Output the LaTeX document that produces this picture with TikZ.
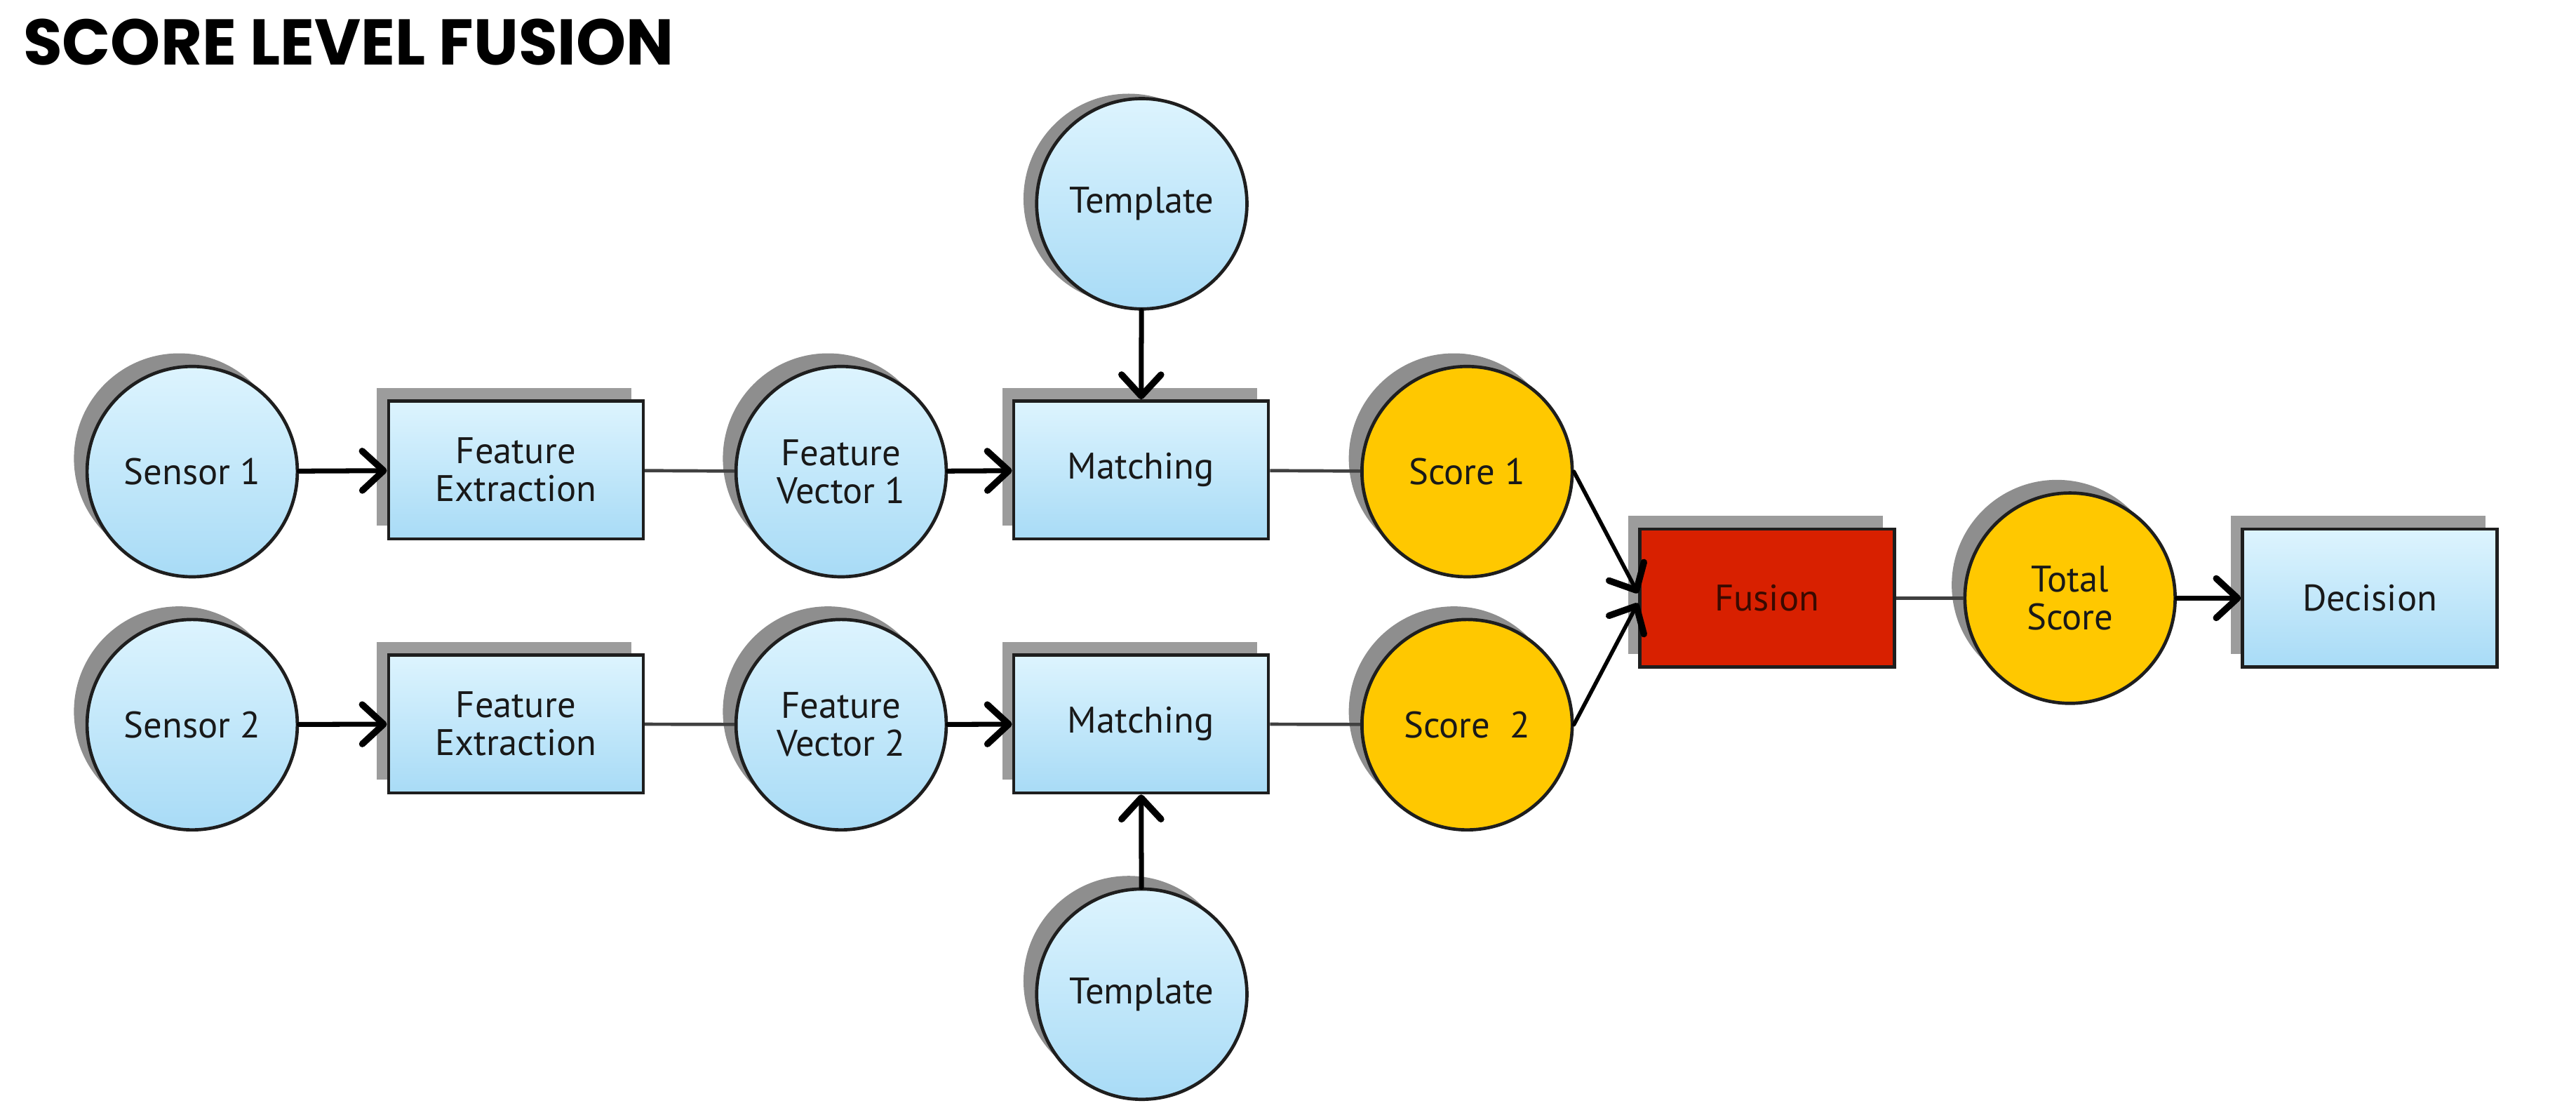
\documentclass[tikz,border=0pt]{standalone}
\usepackage{fontspec}
\usepackage{graphicx}
\setmainfont{PT Sans}
\newfontfamily\titlefont{Poppins}
\usetikzlibrary{arrows.meta}
\definecolor{lbtop}{HTML}{DDF4FE}
\definecolor{lbbot}{HTML}{A8DBF6}
\definecolor{gold}{HTML}{FFC800}
\definecolor{fusred}{HTML}{D82000}
\definecolor{shad}{HTML}{8E8E8E}
\definecolor{shadb}{HTML}{9C9C9C}
\definecolor{edge}{HTML}{1E1E1E}
\definecolor{fustext}{HTML}{3A0A00}
\tikzset{
  base/.style={draw=edge, line width=2pt, align=center, inner sep=0pt,
    font=\fontsize{22.5}{23}\selectfont, text=black!90},
  circ/.style={base, circle, minimum size=128pt, top color=lbtop, bottom color=lbbot,
    preaction={fill=shad, transform canvas={shift={(-8pt,8pt)}}}},
  circtop/.style={base, circle, minimum size=128pt, top color=lbtop, bottom color=lbbot,
    preaction={fill=shad, transform canvas={shift={(-8pt,3pt)}}}},
  goldcirc/.style={circ, top color=gold, bottom color=gold},
  box/.style={base, rectangle, minimum width=155pt, minimum height=84pt,
    top color=lbtop, bottom color=lbbot,
    preaction={fill=shadb, transform canvas={shift={(-7pt,8pt)}}}},
  redbox/.style={box, top color=fusred, bottom color=fusred, text=fustext},
  plain/.style={draw=black!75, line width=2pt},
  arr/.style={draw=black, line width=3pt, line cap=round,
    -{Straight Barb[length=13pt, width=24pt, line width=4pt, round]}},
  arrthin/.style={draw=black, line width=2.4pt, line cap=round,
    -{Straight Barb[length=13pt, width=24pt, line width=4pt, round]}},
}
\begin{document}
\begin{tikzpicture}[x=1pt,y=1pt]
\useasboundingbox (0,0) rectangle (1568,-678.1);
\node[anchor=south west, inner sep=0pt] (title) at (14,-40)
  {\titlefont\bfseries\resizebox{396pt}{28pt}{SCORE LEVEL FUSION}};

% row 1
\node[circ] (sen1) at (117,-287) {Sensor 1};
\node[box] (fe1) at (314,-286) {Feature\\Extraction};
\node[circ] (fv1) at (512,-287) {Feature\\Vector 1};
\node[box] (m1) at (694.5,-286) {Matching};
\node[goldcirc] (s1) at (893,-287) {Score 1};
\node[circtop] (t1) at (695,-124) {Template};
% row 2
\node[circ] (sen2) at (117,-441) {Sensor 2};
\node[box] (fe2) at (314,-440.5) {Feature\\Extraction};
\node[circ] (fv2) at (512,-441) {Feature\\Vector 2};
\node[box] (m2) at (694.5,-440.5) {Matching};
\node[goldcirc] (s2) at (893,-441) {Score\ \ 2};
\node[circ] (t2) at (695,-605) {Template};
% fusion part
\node[redbox] (fus) at (1075.5,-364) {Fusion};
\node[goldcirc] (tot) at (1260,-364) {Total\\Score};
\node[box] (dec) at (1442.5,-364) {Decision};

% connectors
\draw[arr] (sen1) -- (fe1);
\draw[plain] (fe1) -- (fv1);
\draw[arr] (fv1) -- (m1);
\draw[arr] (t1) -- (m1);
\draw[plain] (m1) -- (s1);
\draw[arr] (sen2) -- (fe2);
\draw[plain] (fe2) -- (fv2);
\draw[arr] (fv2) -- (m2);
\draw[arr] (t2) -- (m2);
\draw[plain] (m2) -- (s2);
\draw[arrthin] (s1.east) -- ([yshift=3pt]fus.west);
\draw[arrthin] (s2.east) -- ([yshift=-3pt]fus.west);
\draw[plain] (fus) -- (tot);
\draw[arr] (tot) -- (dec);
\end{tikzpicture}
\end{document}
